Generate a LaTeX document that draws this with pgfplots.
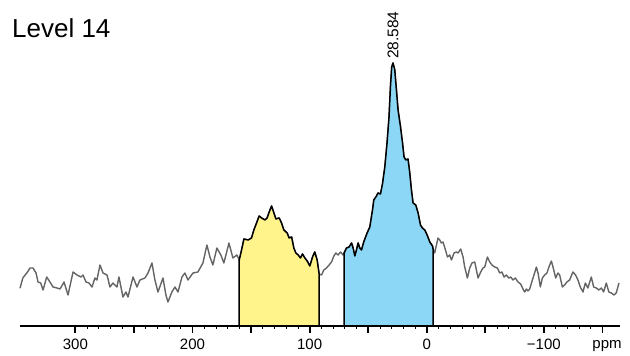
\documentclass[border=0pt]{standalone}
\usepackage{pgfplots}
\pgfplotsset{compat=1.18}
\usepackage{fontspec}
\setmainfont{Liberation Sans}
\definecolor{specgray}{RGB}{100,100,100}
\definecolor{yel}{RGB}{255,243,140}
\definecolor{blu}{RGB}{140,215,245}
\begin{document}
\begin{tikzpicture}
\begin{axis}[
  at={(0,0)}, anchor=south west,
  width=600pt, height=326pt, scale only axis,
  x dir=reverse, xmin=-165, xmax=347.3, ymin=0, ymax=326,
  axis x line=bottom, axis y line=none,
  axis line style={-, line width=1.9pt, black},
  xtick={-150,-100,...,300},
  xticklabels={,−100,,0,,100,,200,,300},
  minor x tick num=4,
  tick align=outside,
  major tick length=7pt, minor tick length=3pt,
  every major tick/.append style={line width=1.8pt, black},
  every minor tick/.append style={line width=0.7pt, black},
  xticklabel style={font=\fontsize{15}{17}\selectfont, anchor=base, yshift=-17pt},
  clip=false,
]
% full spectrum (grey)
\addplot[specgray, line width=1.4pt, line join=round] coordinates {
(347.3,37.7) (344.9,48) (341.5,53) (338.7,58) (336.2,58) (333.6,53) (331.9,44) (329.6,43) (327.6,36) (324.5,49)
(321.7,44) (319.1,39) (315.7,38) (313.1,37) (309.7,44) (306.3,31) (302.0,54) (298.6,51) (295.2,49) (293.5,51)
(290.9,44) (288.4,43) (285.8,39) (283.3,48) (281.6,46) (279.0,61) (276.4,53) (273.0,51) (270.5,39) (267.9,43)
(264.5,39) (262.8,49) (259.4,29) (256.8,34) (255.1,29) (250.8,49) (247.4,39) (244.9,46) (240.6,48) (238.0,53)
(234.6,63) (232.1,46) (229.5,34) (225.2,48) (222.7,31) (221.0,24) (217.6,34) (215.0,39) (212.4,34) (209.0,49)
(206.5,53) (203.9,46) (199.6,53) (195.4,54) (191.1,63) (187.7,81) (185.1,69) (182.6,61) (179.2,78) (175.8,71)
(173.2,63) (168.9,83) (165.5,68) (162.1,71) (160.1,66)
(158.1,76) (156.1,87) (152.5,86) (149.6,88) (147.6,96) (145.3,103) (143.1,110) (141.0,108) (138.2,106) (136.3,108)
(134.5,114) (132.5,120) (130.5,113) (128.8,107) (126.0,108) (124.0,103) (122.0,96) (119.2,93) (117.5,88) (115.4,89)
(113.5,78) (111.8,73) (109.8,71) (107.8,68) (106.1,72) (104.1,68) (102.1,65) (99.8,60) (97.5,69) (95.6,74)
(93.6,66) (91.9,52)
(89.8,51) (87.9,56) (85.6,58) (83.4,61) (81.3,64) (79.3,70) (77.6,73) (75.7,71) (73.6,74) (71.4,71) (70.6,73)
(68.5,78) (66.3,79) (64.2,83) (62.9,78) (61.4,70) (60.0,76) (58.6,83) (57.2,78) (55.7,76) (53.8,84)
(50.9,93) (48.6,99) (46.3,116) (45.2,126) (42.9,130) (41.6,133) (39.5,132) (37.8,142) (35.8,159) (33.9,183)
(32.2,209) (31.0,239) (29.9,259) (28.8,263) (27.3,256) (25.9,236) (24.5,216) (22.4,199) (20.7,183) (19.4,169)
(17.9,166) (16.0,167) (14.5,153) (13.1,136) (11.7,123) (9.4,121) (7.4,113) (5.4,101) (3.7,98) (1.7,96)
(-0.3,91) (-2.6,84) (-4.9,80) (-5.4,77)
(-6.8,73) (-8.3,81) (-9.6,88) (-11.1,86) (-12.5,83) (-13.9,84) (-16.0,76) (-17.7,69) (-19.6,71) (-21.1,66)
(-23.3,73) (-25.3,74) (-26.7,73) (-29.0,77) (-31.0,69) (-32.4,59) (-34.7,48) (-36.7,58) (-38.6,63) (-41.0,64)
(-43.8,48) (-46.1,54) (-48.0,58) (-49.5,59) (-51.8,69) (-53.8,64) (-55.7,61) (-58.0,59) (-60.3,58) (-62.3,53)
(-64.2,54) (-66.0,49) (-68.0,51) (-70.0,48) (-71.7,49) (-73.6,46) (-75.7,48) (-77.9,44) (-80.2,42) (-82.2,37)
(-83.6,34) (-85.1,37) (-86.4,35) (-87.9,37) (-90.2,46) (-92.1,53) (-93.6,59) (-95.0,53) (-97.0,39) (-98.7,48)
(-100.7,51) (-102.6,53) (-104.3,59) (-106.4,65) (-107.8,59) (-110.1,48) (-112.0,53) (-113.5,51) (-115.8,39) (-117.7,41)
(-119.7,44) (-122.0,46) (-124.8,54) (-127.1,51) (-129.1,46) (-131.1,39) (-133.4,34) (-135.4,43) (-137.6,38) (-140.5,49)
(-142.5,39) (-144.8,38) (-147.0,36) (-149.1,38) (-151.0,34) (-153.3,43) (-155.5,34) (-157.6,33) (-159.8,31) (-161.8,33)
(-164.1,43)
};
% yellow integration region
\addplot[fill=yel, draw=black, line width=1.5pt, line join=round] coordinates {
(160.1,66) (158.1,76) (156.1,87) (152.5,86) (149.6,88) (147.6,96) (145.3,103) (143.1,110) (141.0,108) (138.2,106) (136.3,108)
(134.5,114) (132.5,120) (130.5,113) (128.8,107) (126.0,108) (124.0,103) (122.0,96) (119.2,93) (117.5,88) (115.4,89)
(113.5,78) (111.8,73) (109.8,71) (107.8,68) (106.1,72) (104.1,68) (102.1,65) (99.8,60) (97.5,69) (95.6,74)
(93.6,66) (91.9,52)
} \closedcycle;
% blue integration region
\addplot[fill=blu, draw=black, line width=1.5pt, line join=round] coordinates {
(70.6,73) (68.5,78) (66.3,79) (64.2,83) (62.9,78) (61.4,70) (60.0,76) (58.6,83) (57.2,78) (55.7,76) (53.8,84)
(50.9,93) (48.6,99) (46.3,116) (45.2,126) (42.9,130) (41.6,133) (39.5,132) (37.8,142) (35.8,159) (33.9,183)
(32.2,209) (31.0,239) (29.9,259) (28.8,263) (27.3,256) (25.9,236) (24.5,216) (22.4,199) (20.7,183) (19.4,169)
(17.9,166) (16.0,167) (14.5,153) (13.1,136) (11.7,123) (9.4,121) (7.4,113) (5.4,101) (3.7,98) (1.7,96)
(-0.3,91) (-2.6,84) (-4.9,80) (-5.4,77)
} \closedcycle;
\node[rotate=90, anchor=west, inner sep=0pt, font=\fontsize{15.5}{17}\selectfont] at (axis cs:28.8,267) {28.584};
\end{axis}
\node[anchor=base west, inner sep=0pt, font=\fontsize{26}{30}\selectfont] at (-8pt,288pt) {Level 14};
\node[anchor=base, inner sep=0pt, font=\fontsize{15}{17}\selectfont] at (587pt,-23pt) {ppm};
\pgfresetboundingbox
\path[use as bounding box] (-20pt,-30pt) rectangle (610pt,326pt);
\end{tikzpicture}
\end{document}
